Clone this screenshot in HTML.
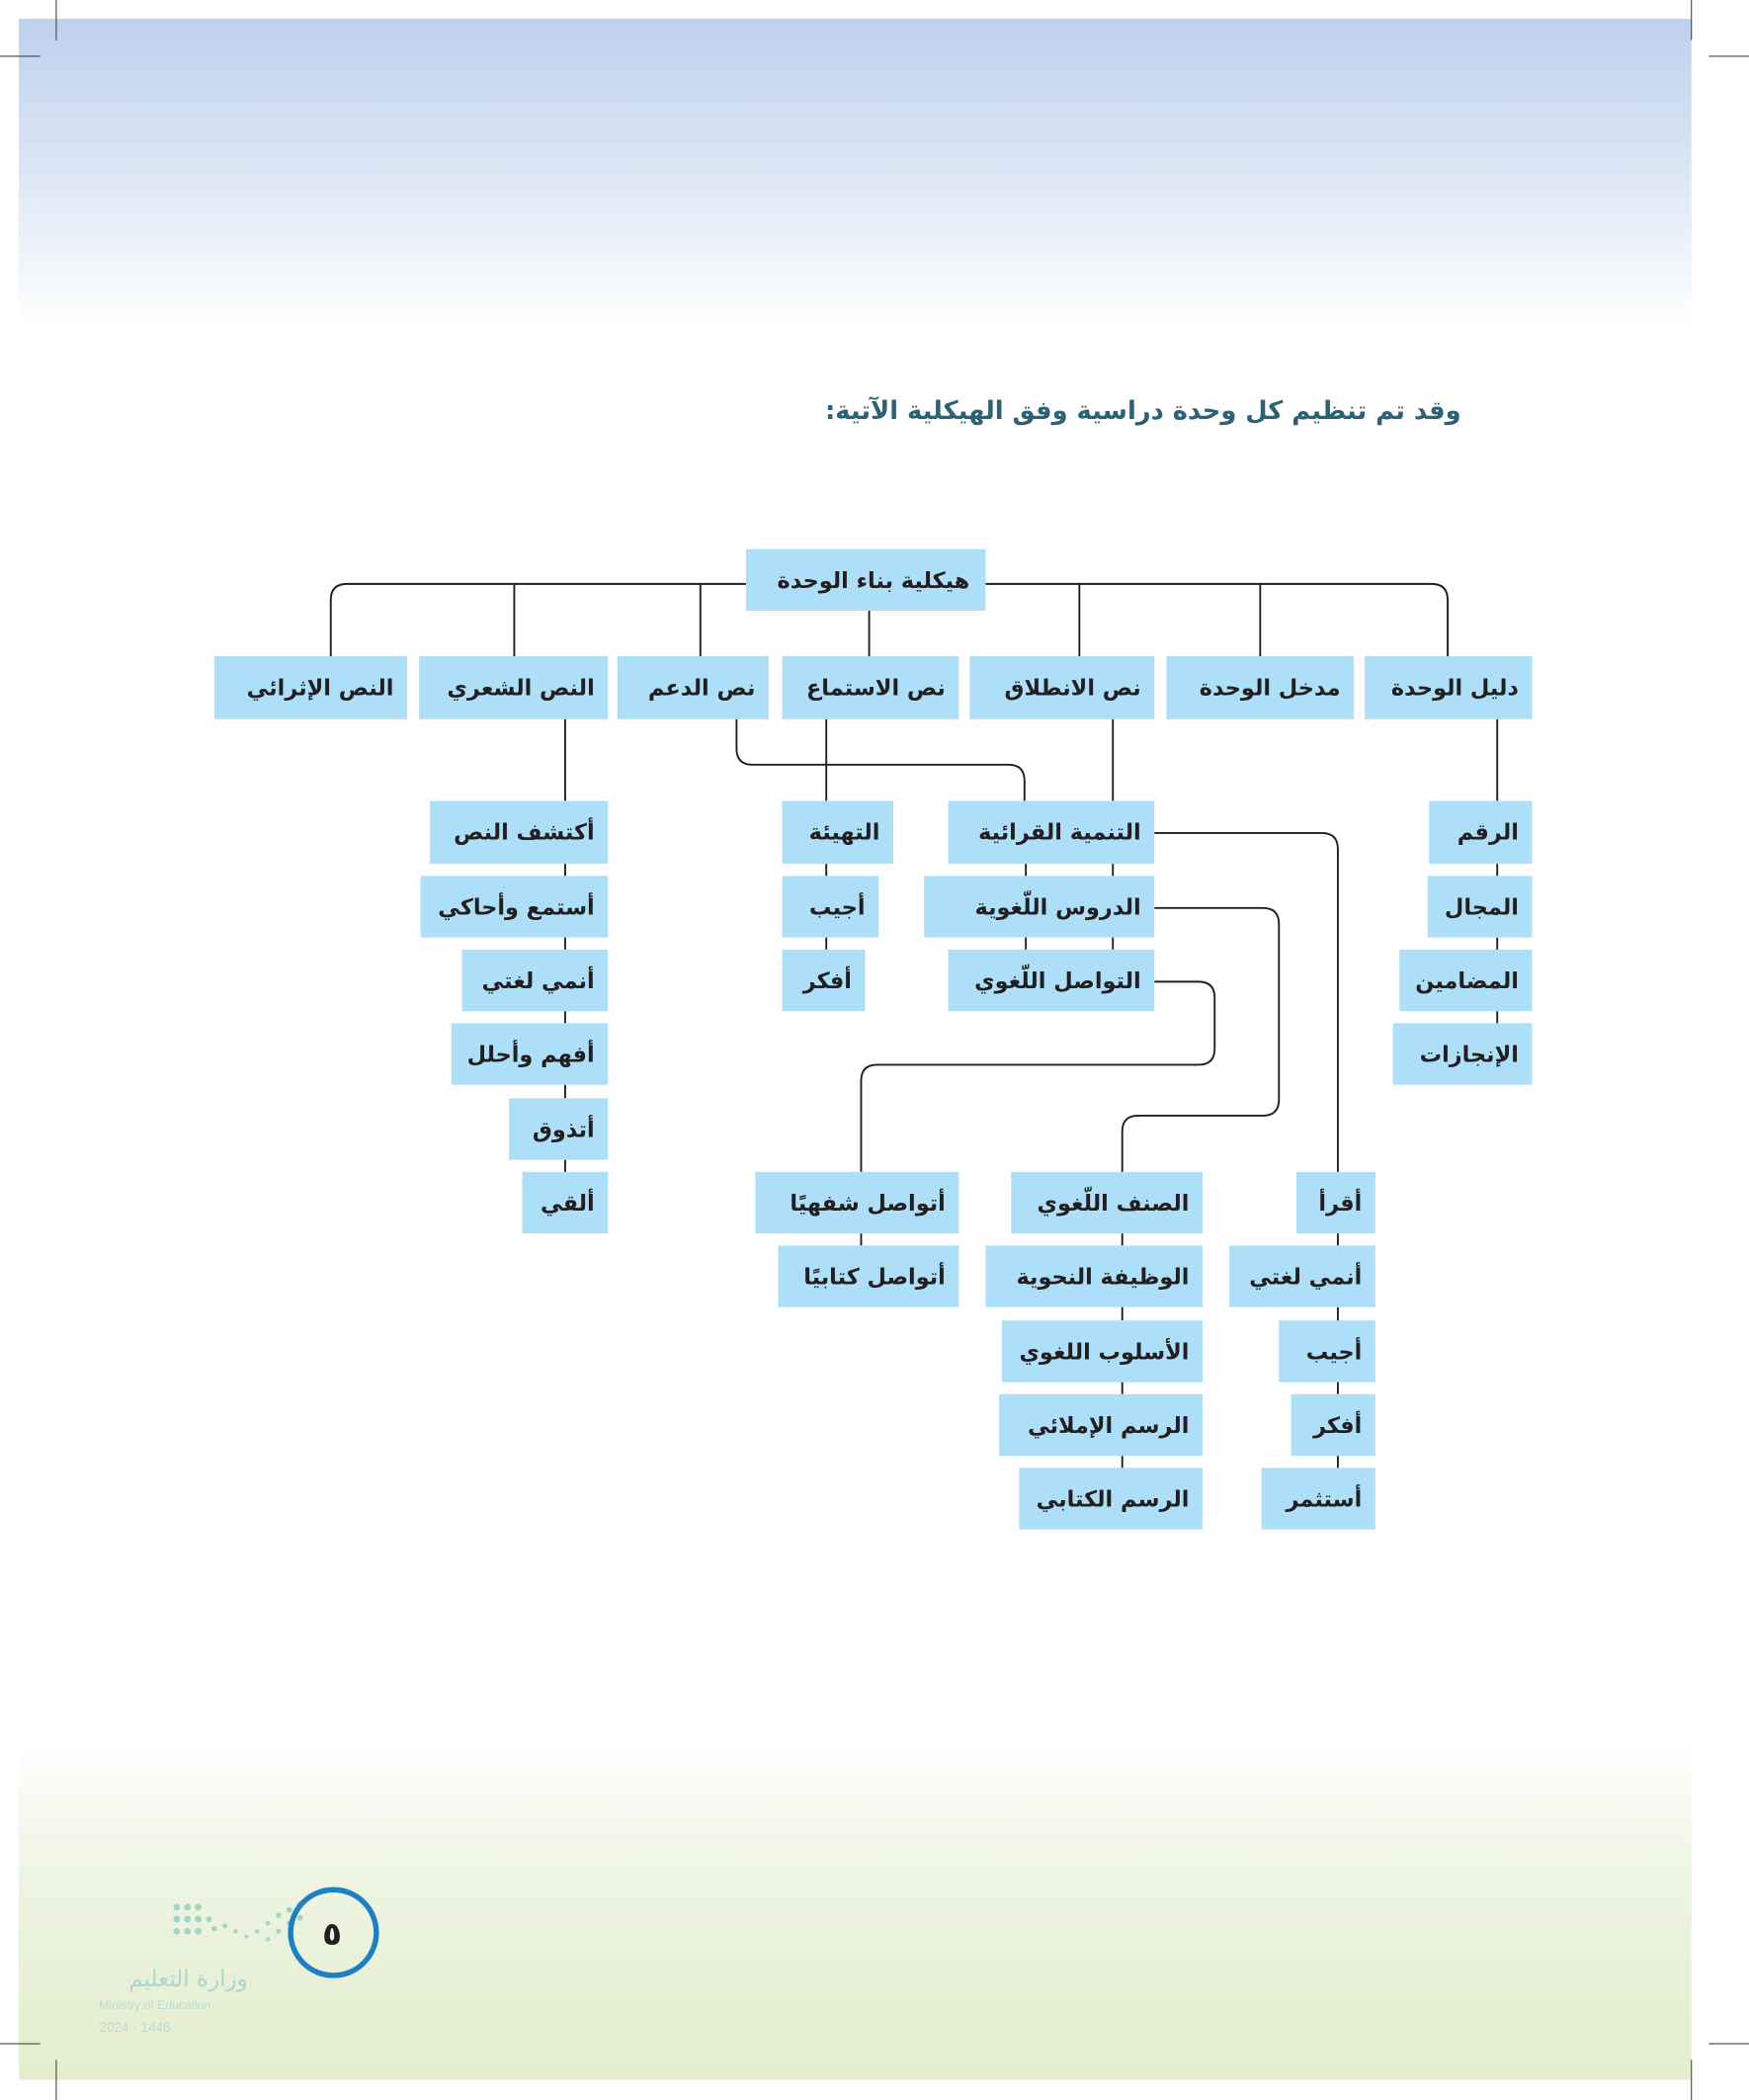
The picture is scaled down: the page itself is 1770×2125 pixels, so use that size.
<!DOCTYPE html>
<html><head><meta charset="utf-8">
<style>
html,body{margin:0;padding:0;background:#fff;}
svg{display:block;}
text{font-family:"DejaVu Sans","Liberation Sans",sans-serif;}
.b{fill:#ade0f8;}
.t{font-size:16.5px;font-weight:bold;fill:#231f20;text-anchor:start;direction:rtl;}
.c{fill:none;stroke:#231f20;stroke-width:1.4;}
</style></head>
<body>
<svg width="1770" height="2125" viewBox="0 0 1306 1568" preserveAspectRatio="none" xmlns="http://www.w3.org/2000/svg">
<defs>
<linearGradient id="gt" x1="0" y1="0" x2="0" y2="1">
<stop offset="0" stop-color="#bdd1ec"/><stop offset="0.55" stop-color="#dfe9f6"/><stop offset="1" stop-color="#ffffff"/></linearGradient>
<linearGradient id="gb" x1="0" y1="0" x2="0" y2="1">
<stop offset="0" stop-color="#ffffff"/><stop offset="0.4" stop-color="#eef4e2"/><stop offset="1" stop-color="#e4edcc"/></linearGradient>
</defs>
<rect x="14" y="14" width="1249" height="230" fill="url(#gt)"/>
<rect x="14" y="1300" width="1249" height="253" fill="url(#gb)"/>
<g stroke="#444" stroke-width="0.8">
<line x1="0" y1="42" x2="30" y2="42"/><line x1="42" y1="0" x2="42" y2="30"/>
<line x1="1276" y1="42" x2="1306" y2="42"/><line x1="1263" y1="0" x2="1263" y2="30"/>
<line x1="0" y1="1526" x2="30" y2="1526"/><line x1="42" y1="1538" x2="42" y2="1568"/>
<line x1="1276" y1="1526" x2="1306" y2="1526"/><line x1="1263" y1="1538" x2="1263" y2="1568"/>
</g>
<text x="1091" y="313" style="font-size:19px;font-weight:bold;fill:#2b6275;text-anchor:start;direction:rtl;">وقد تم تنظيم كل وحدة دراسية وفق الهيكلية الآتية:</text>

<path class="c" d="M247,490 V448 Q247,436 259,436 H1069 Q1081,436 1081,448 V490"/>
<path class="c" d="M384,436V490 M523,436V490 M649,456V490 M806,436V490 M941,436V490"/>
<path class="c" d="M1118,537V598 M831,537V598 M617,537V598 M422,537V598"/>
<path class="c" d="M550,537 V559 Q550,571 562,571 H753 Q765,571 765,583 V598"/>
<path class="c" d="M1118,645V654 M1118,700V709 M1118,755V764"/>
<path class="c" d="M422,645V654 M422,700V709 M422,755V764 M422,810V820 M422,866V875"/>
<path class="c" d="M617,645V654 M617,700V709"/>
<path class="c" d="M766,645V654 M831,645V654 M766,700V709 M831,700V709"/>
<path class="c" d="M862,622 H987 Q999,622 999,634 V875"/>
<path class="c" d="M862,678 H943 Q955,678 955,690 V821 Q955,833 943,833 H850 Q838,833 838,845 V875"/>
<path class="c" d="M862,733 H895 Q907,733 907,745 V783 Q907,795 895,795 H655 Q643,795 643,807 V875"/>
<path class="c" d="M643,921V930"/>
<path class="c" d="M838,921V930 M838,976V986 M838,1032V1041 M838,1087V1096"/>
<path class="c" d="M999,921V930 M999,976V986 M999,1032V1041 M999,1087V1096"/>

<rect class="b" x="557" y="410" width="179" height="46"/>
<text class="t" x="724" y="439">هيكلية بناء الوحدة</text>

<rect class="b" x="160" y="490" width="144" height="47"/><text class="t" x="294" y="519">النص الإثرائي</text>
<rect class="b" x="313" y="490" width="141" height="47"/><text class="t" x="444" y="519">النص الشعري</text>
<rect class="b" x="461" y="490" width="113" height="47"/><text class="t" x="564" y="519">نص الدعم</text>
<rect class="b" x="584" y="490" width="132" height="47"/><text class="t" x="706" y="519">نص الاستماع</text>
<rect class="b" x="724" y="490" width="138" height="47"/><text class="t" x="852" y="519">نص الانطلاق</text>
<rect class="b" x="871" y="490" width="140" height="47"/><text class="t" x="1001" y="519">مدخل الوحدة</text>
<rect class="b" x="1019" y="490" width="125" height="47"/><text class="t" x="1134" y="519">دليل الوحدة</text>

<rect class="b" x="1067" y="598" width="77" height="47"/><text class="t" x="1134" y="627">الرقم</text>
<rect class="b" x="1066" y="654" width="78" height="46"/><text class="t" x="1134" y="683">المجال</text>
<rect class="b" x="1045" y="709" width="99" height="46"/><text class="t" x="1134" y="738">المضامين</text>
<rect class="b" x="1040" y="764" width="104" height="46"/><text class="t" x="1134" y="793">الإنجازات</text>

<rect class="b" x="321" y="598" width="133" height="47"/><text class="t" x="444" y="627">أكتشف النص</text>
<rect class="b" x="314" y="654" width="140" height="46"/><text class="t" x="444" y="683">أستمع وأحاكي</text>
<rect class="b" x="345" y="709" width="109" height="46"/><text class="t" x="444" y="738">أنمي لغتي</text>
<rect class="b" x="337" y="764" width="117" height="46"/><text class="t" x="444" y="793">أفهم وأحلل</text>
<rect class="b" x="380" y="820" width="74" height="46"/><text class="t" x="444" y="849">أتذوق</text>
<rect class="b" x="390" y="875" width="64" height="46"/><text class="t" x="444" y="904">ألقي</text>

<rect class="b" x="584" y="598" width="83" height="47"/><text class="t" x="657" y="627">التهيئة</text>
<rect class="b" x="584" y="654" width="72" height="46"/><text class="t" x="646" y="683">أجيب</text>
<rect class="b" x="584" y="709" width="62" height="46"/><text class="t" x="636" y="738">أفكر</text>

<rect class="b" x="708" y="598" width="154" height="47"/><text class="t" x="852" y="627">التنمية القرائية</text>
<rect class="b" x="690" y="654" width="172" height="46"/><text class="t" x="852" y="683">الدروس اللّغوية</text>
<rect class="b" x="708" y="709" width="154" height="46"/><text class="t" x="852" y="738">التواصل اللّغوي</text>

<rect class="b" x="564" y="875" width="152" height="46"/><text class="t" x="706" y="904">أتواصل شفهيًا</text>
<rect class="b" x="581" y="930" width="135" height="46"/><text class="t" x="706" y="959">أتواصل كتابيًا</text>

<rect class="b" x="755" y="875" width="143" height="46"/><text class="t" x="888" y="904">الصنف اللّغوي</text>
<rect class="b" x="736" y="930" width="162" height="46"/><text class="t" x="888" y="959">الوظيفة النحوية</text>
<rect class="b" x="748" y="986" width="150" height="46"/><text class="t" x="888" y="1015">الأسلوب اللغوي</text>
<rect class="b" x="746" y="1041" width="152" height="46"/><text class="t" x="888" y="1070">الرسم الإملائي</text>
<rect class="b" x="761" y="1096" width="137" height="46"/><text class="t" x="888" y="1125">الرسم الكتابي</text>

<rect class="b" x="968" y="875" width="59" height="46"/><text class="t" x="1017" y="904">أقرأ</text>
<rect class="b" x="918" y="930" width="109" height="46"/><text class="t" x="1017" y="959">أنمي لغتي</text>
<rect class="b" x="955" y="986" width="72" height="46"/><text class="t" x="1017" y="1015">أجيب</text>
<rect class="b" x="964" y="1041" width="63" height="46"/><text class="t" x="1017" y="1070">أفكر</text>
<rect class="b" x="942" y="1096" width="85" height="46"/><text class="t" x="1017" y="1125">أستثمر</text>

<g fill="#9fd6c8">
<circle cx="132" cy="1424" r="2.5"/><circle cx="140" cy="1424" r="2.5"/><circle cx="148" cy="1424" r="2.5"/>
<circle cx="132" cy="1433" r="2.5"/><circle cx="140" cy="1433" r="2.5"/><circle cx="148" cy="1433" r="2.5"/><circle cx="156" cy="1433" r="2.2"/>
<circle cx="132" cy="1442" r="2.5"/><circle cx="140" cy="1442" r="2.5"/><circle cx="148" cy="1442" r="2.5"/><circle cx="160" cy="1440" r="2"/>
<circle cx="168" cy="1438" r="1.8"/><circle cx="176" cy="1442" r="1.6"/><circle cx="184" cy="1446" r="1.4"/><circle cx="192" cy="1442" r="1.6"/>
<circle cx="200" cy="1436" r="1.8"/><circle cx="208" cy="1430" r="2"/><circle cx="216" cy="1426" r="2.2"/><circle cx="224" cy="1422" r="2.3"/>
<circle cx="216" cy="1436" r="2"/><circle cx="224" cy="1432" r="2.2"/><circle cx="208" cy="1442" r="1.8"/><circle cx="200" cy="1448" r="1.5"/>
</g>
<circle cx="249" cy="1443" r="32" fill="none" stroke="#1e7fc2" stroke-width="4"/>
<text x="248" y="1452" style="font-size:24px;font-weight:bold;fill:#231f20;text-anchor:middle;">٥</text>
<text x="185" y="1483" style="font-size:17px;fill:#a8d9d0;text-anchor:start;direction:rtl;">وزارة التعليم</text>
<text x="74" y="1500" style="font-size:9px;fill:#b7dcd6;font-family:'Liberation Sans',sans-serif;">Ministry of Education</text>
<text x="74" y="1517" style="font-size:10px;fill:#b7dcd6;font-family:'Liberation Sans',sans-serif;">2024 - 1446</text>
</svg>
</body></html>
